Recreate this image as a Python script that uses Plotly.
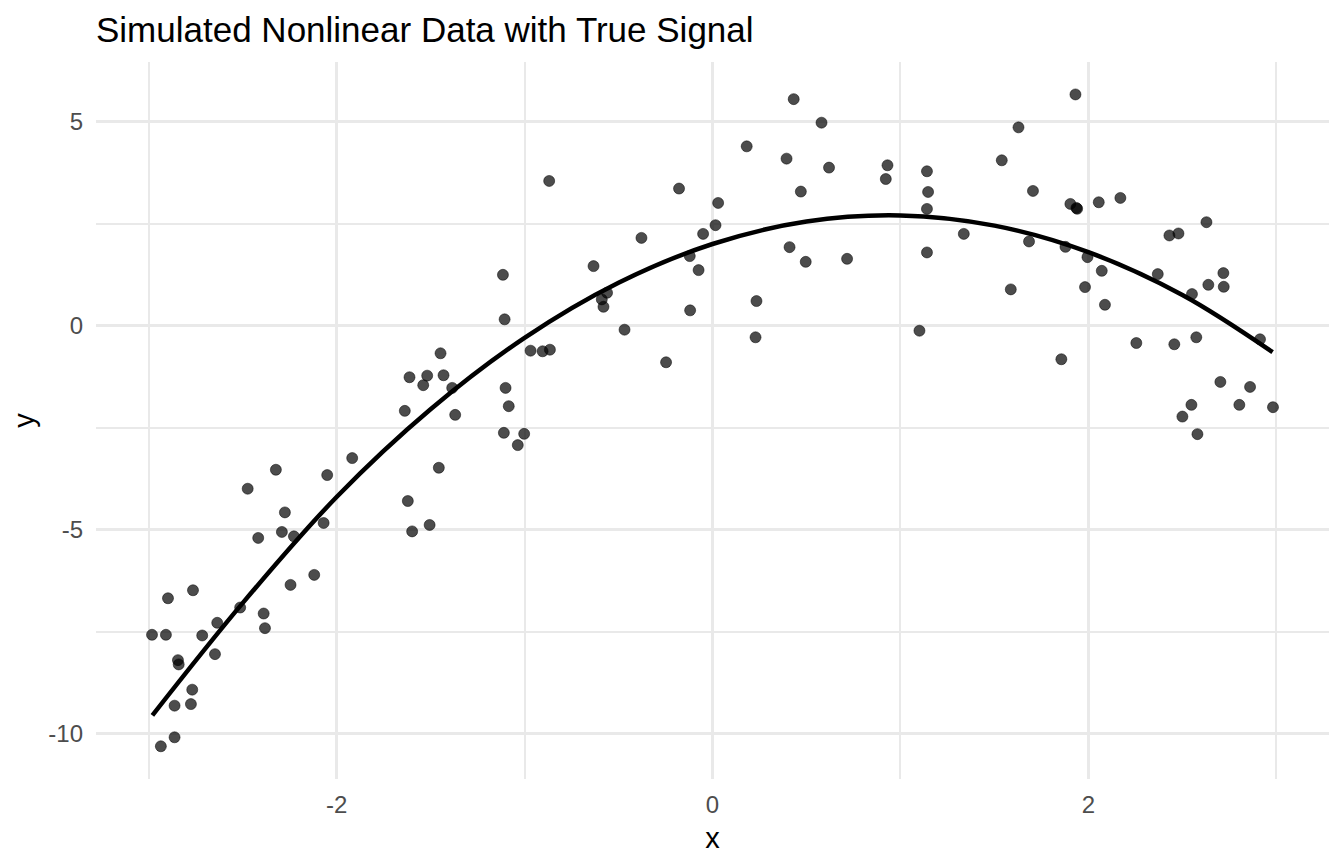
import plotly.graph_objects as go

x_obs = [
    -1.612, -1.637, -1.917, -2.050, -2.323, -2.473, -2.275, -2.417, -2.291, -2.227,
    -2.069, -1.621, -1.598, -2.119, -2.245, -2.897, -2.764, -2.513, -2.388, -2.381,
    -2.635, -2.982, -2.908, -2.715, -2.647, -2.844, -2.840, -2.768, -2.862, -2.775,
    -2.862, -2.935, -0.869, -0.178, 0.030, 0.016, -0.050, -0.378, -0.121, -0.074,
    -0.633, -1.115, -0.561, -0.589, -0.580, -0.119, -1.106, -0.468, -0.247, -0.968,
    -0.904, -0.865, -1.447, -1.518, -1.539, -1.431, -1.385, -1.369, -1.101, -1.084,
    -1.110, -1.002, -1.036, -1.456, -1.505, 0.432, 0.580, 0.182, 0.394, 0.620,
    0.931, 0.922, 1.141, 1.147, 1.141, 0.470, 0.410, 0.496, 0.716, 1.141,
    0.234, 0.229, 1.101, 1.931, 1.628, 1.539, 1.705, 1.904, 1.936, 1.940,
    2.055, 2.170, 1.337, 1.684, 1.878, 1.995, 2.071, 1.587, 1.982, 2.088,
    2.369, 2.431, 2.479, 1.856, 2.255, 2.457, 2.628, 2.718, 2.638, 2.720,
    2.551, 2.574, 2.913, 2.702, 2.860, 2.548, 2.803, 2.982, 2.500, 2.580,
]
y_obs = [
    -1.265, -2.089, -3.246, -3.662, -3.532, -3.997, -4.577, -5.203, -5.056, -5.164,
    -4.836, -4.298, -5.042, -6.108, -6.353, -6.681, -6.485, -6.908, -7.055, -7.414,
    -7.282, -7.576, -7.576, -7.593, -8.050, -8.197, -8.302, -8.921, -9.313, -9.274,
    -10.088, -10.308, 3.545, 3.359, 3.006, 2.461, 2.248, 2.150, 1.703, 1.360,
    1.458, 1.245, 0.805, 0.643, 0.462, 0.374, 0.154, -0.100, -0.898, -0.614,
    -0.629, -0.590, -0.678, -1.226, -1.460, -1.216, -1.526, -2.187, -1.526, -1.974,
    -2.627, -2.652, -2.928, -3.483, -4.885, 5.550, 4.973, 4.393, 4.092, 3.872,
    3.929, 3.593, 3.782, 3.275, 2.860, 3.285, 1.923, 1.563, 1.637, 1.793,
    0.602, -0.286, -0.125, 5.665, 4.858, 4.051, 3.300, 2.982, 2.884, 2.864,
    3.023, 3.129, 2.248, 2.062, 1.930, 1.678, 1.343, 0.888, 0.944, 0.511,
    1.262, 2.209, 2.258, -0.824, -0.426, -0.457, 2.534, 1.287, 1.000, 0.952,
    0.773, -0.286, -0.335, -1.380, -1.502, -1.942, -1.942, -1.999, -2.229, -2.659,
]

# true signal curve, read at a few x positions
x_true = [-2.98, -2.5, -2.0, -1.5, -1.0, -0.5, 0.0, 0.5, 1.0, 1.5, 2.0, 2.5, 2.98]
y_true = [-9.55, -6.8, -4.2, -2.05, -0.3, 1.05, 2.0, 2.55, 2.7, 2.45, 1.8, 0.75, -0.65]

x_ticks = [-2, 0, 2]
x_minor = [-3, -1, 1, 3]
y_ticks = [-10, -5, 0, 5]
y_minor = [-7.5, -2.5, 2.5]

GRID = "#e9e9e9"
FONT = "Liberation Sans, Arial, sans-serif"

# the page body has an 8px margin, so the figure is 8px smaller each way
W, H = 1336, 856

fig = go.Figure()

fig.add_trace(
    go.Scatter(
        x=x_obs,
        y=y_obs,
        mode="markers",
        marker=dict(
            size=11,
            color="rgba(0,0,0,0.7)",
            line=dict(width=1, color="rgba(0,0,0,0.5)"),
        ),
        showlegend=False,
    )
)

fig.add_trace(
    go.Scatter(
        x=x_true,
        y=y_true,
        mode="lines",
        line=dict(color="black", width=4.5, shape="spline"),
        showlegend=False,
    )
)

fig.update_layout(
    width=W,
    height=H,
    paper_bgcolor="white",
    plot_bgcolor="white",
    margin=dict(l=88, r=15, t=54, b=85),
    font=dict(family=FONT, color="black"),
    title=dict(
        text="Simulated Nonlinear Data with True Signal",
        x=88 / W,
        xanchor="left",
        xref="container",
        y=1 - 22 / H,
        yanchor="middle",
        yref="container",
        font=dict(size=35, color="black"),
    ),
)

fig.update_xaxes(
    range=[-3.28, 3.28],
    tickvals=x_ticks,
    ticktext=[str(v) for v in x_ticks],
    showgrid=True,
    gridcolor=GRID,
    gridwidth=2.6,
    zeroline=False,
    showline=False,
    ticks="",
    ticklabelstandoff=9,
    tickfont=dict(size=24, color="#4d4d4d"),
    minor=dict(tickvals=x_minor, showgrid=True, gridcolor=GRID, gridwidth=1.5),
    title=dict(text="x", font=dict(size=29), standoff=10),
    automargin=False,
)

fig.update_yaxes(
    range=[-11.11, 6.46],
    tickvals=y_ticks,
    ticktext=[str(v) for v in y_ticks],
    showgrid=True,
    gridcolor=GRID,
    gridwidth=2.6,
    zeroline=False,
    showline=False,
    ticks="",
    ticklabelstandoff=12,
    tickfont=dict(size=24, color="#4d4d4d"),
    minor=dict(tickvals=y_minor, showgrid=True, gridcolor=GRID, gridwidth=1.5),
    title=dict(text="y", font=dict(size=29), standoff=12),
    automargin=False,
)

fig.write_html("out.html")
